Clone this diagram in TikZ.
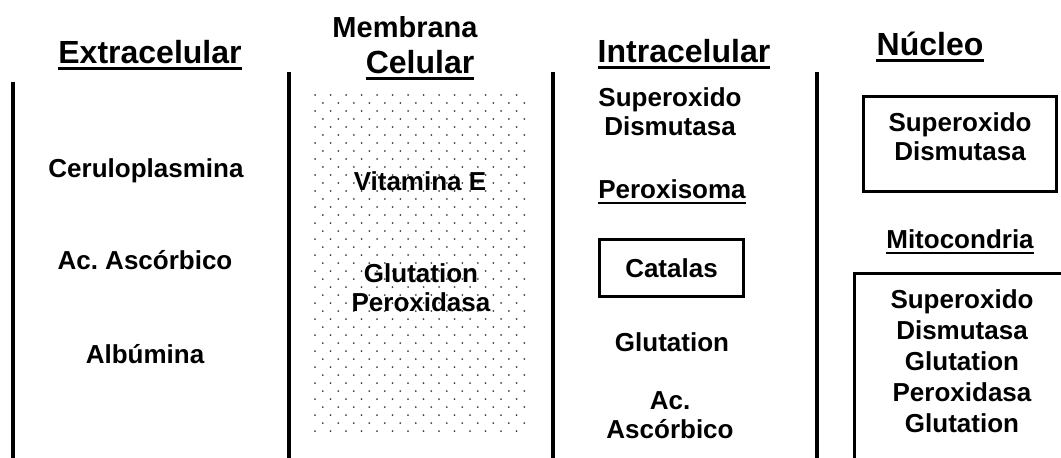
\documentclass[tikz,border=0pt]{standalone}
\usepackage{fontspec}
\setmainfont{Liberation Sans}
\newcommand{\headfont}{\fontsize{32}{35}\selectfont\bfseries}
\newcommand{\txtfont}{\fontsize{26}{29}\selectfont\bfseries}
\tikzset{
	head/.style={font=\headfont, inner sep=0pt, anchor=base},
	txt/.style={font=\txtfont, inner sep=0pt, align=center},
	wall/.style={line width=4pt},
	frame/.style={draw, line width=3pt, inner sep=0pt},
	uline/.style={line width=3pt},
	dotc/.style={fill=black!75},
}
\begin{document}
\begin{tikzpicture}[x=1pt,y=-1pt]
	\useasboundingbox (0,0) rectangle (1061,458);
	\foreach \r in {0,...,42}{
		\pgfmathsetmacro\off{7.75*mod(\r,2)}
		\foreach \c in {0,...,13}
			\fill[dotc] ({315+\off+15.5*\c},{95+8*\r}) circle (1pt);
	}
	\draw[wall] (13,82)--(13,458);
	\draw[wall] (289,72)--(289,458);
	\draw[wall] (553,72)--(553,458);
	\draw[wall] (817,72)--(817,458);
	\node[head] (ext) at (150,63) {Extracelular};
	\node[head, font=\fontsize{29}{32}\selectfont\bfseries] (memb) at (405,37) {Membrana};
	\node[head] (cel) at (420,73) {Celular};
	\node[head] (intra) at (684,62) {Intracelular};
	\node[head] (nuc) at (930,55) {Núcleo};
	\draw[uline] ([yshift=-5.5pt]ext.base west)--([yshift=-5.5pt]ext.base east);
	\draw[uline] ([yshift=-5.5pt]cel.base west)--([yshift=-5.5pt]cel.base east);
	\draw[uline] ([yshift=-5.5pt]intra.base west)--([yshift=-5.5pt]intra.base east);
	\draw[uline] ([yshift=-5.5pt]nuc.base west)--([yshift=-5.5pt]nuc.base east);
	\node[txt, anchor=base] (cer) at (146,177) {Ceruloplasmina};
	\node[txt, anchor=base] (asc) at (145,269) {Ac.\ Ascórbico};
	\node[txt, anchor=base] (alb) at (145,363) {Albúmina};
	\node[txt, anchor=base] (vite) at (420,190) {Vitamina E};
	\node[txt] (gpx) at (421,288) {Glutation\\Peroxidasa};
	\node[txt] (sod) at (670,112) {Superoxido\\Dismutasa};
	\node[txt, anchor=base] (perox) at (672,198) {Peroxisoma};
	\draw[line width=2pt] ([yshift=-5pt]perox.base west)--([yshift=-5pt]perox.base east);
	\node[txt, frame, minimum width=144pt, minimum height=57pt] (cat) at (671.5,268) {Catalas};
	\node[txt, anchor=base] (glu) at (672,351) {Glutation};
	\node[txt] (asc2) at (670,415) {Ac.\\Ascórbico};
	\node[frame, minimum width=193pt, minimum height=95pt] (nucbox) at (960,144) {};
	\node[txt] (nucsod) at (960,137) {Superoxido\\Dismutasa};
	\node[txt, anchor=base] (mito) at (960,248) {Mitocondria};
	\draw[line width=2pt] ([yshift=-4.5pt]mito.base west)--([yshift=-4.5pt]mito.base east);
	\draw[line width=3pt] (854,458)--(854,273)--(1061,273);
	\node[txt, font=\fontsize{26}{31}\selectfont\bfseries] (mtx) at (962,361) {Superoxido\\Dismutasa\\Glutation\\Peroxidasa\\Glutation};
\end{tikzpicture}
\end{document}
